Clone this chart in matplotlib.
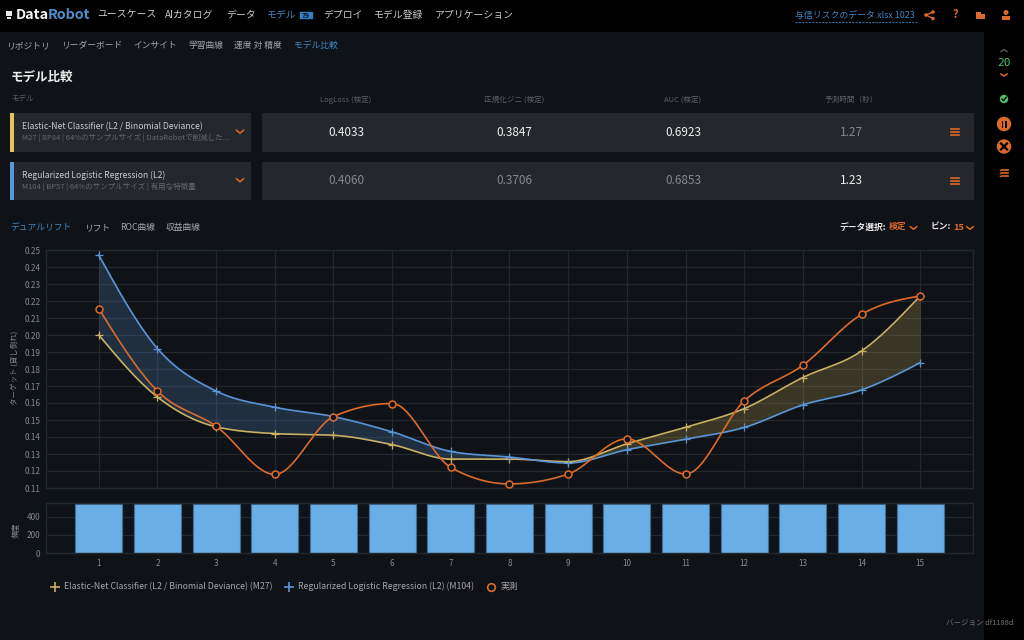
import numpy as np
import matplotlib
matplotlib.use('Agg')
import matplotlib.pyplot as plt
from matplotlib.patches import Rectangle, Circle

plt.rcParams['font.family'] = ['Noto Sans CJK JP', 'DejaVu Sans']

# data
bins = [1, 2, 3, 4, 5, 6, 7, 8, 9, 10, 11, 12, 13, 14, 15]
elastic = [0.200, 0.1635, 0.146, 0.142, 0.141, 0.1355, 0.127, 0.127, 0.1255, 0.136, 0.1457, 0.1567, 0.175, 0.1906, 0.223]
regularized = [0.247, 0.192, 0.167, 0.1575, 0.152, 0.143, 0.1315, 0.1282, 0.1247, 0.1325, 0.1387, 0.1456, 0.1589, 0.1677, 0.1837]
actual = [0.2155, 0.167, 0.1463, 0.118, 0.152, 0.1597, 0.1221, 0.1124, 0.1182, 0.1389, 0.1182, 0.1612, 0.1822, 0.2121, 0.223]
freq = [539, 539, 539, 539, 539, 539, 539, 539, 539, 539, 539, 539, 539, 539, 539]

metric_names = ['LogLoss (検定)', '正規化ジニ (検定)', 'AUC (検定)', '予測時間（秒）']
row1_values = ['0.4033', '0.3847', '0.6923', '1.27']
row2_values = ['0.4060', '0.3706', '0.6853', '1.23']
nav_items = ['ユースケース', 'AIカタログ', 'データ', 'モデル', 'デプロイ', 'モデル登録', 'アプリケーション']
sub_items = ['リポジトリ', 'リーダーボード', 'インサイト', '学習曲線', '速度 対 精度', 'モデル比較']
tab_items = ['デュアルリフト', 'リフト', 'ROC曲線', '収益曲線']

BG = '#0f1317'
CARD = '#24282c'
GRID = '#23282c'
ORANGE = '#dc6a2a'
BLUE = '#5b94d6'
YELLOW = '#c9b063'
LINK = '#3f86c2'
TEXT = '#c8cacb'
DIM = '#85888b'
FAINT = '#5d6164'


def smooth(x, y, n=30):
    # same idea as d3 curveMonotoneX, only for drawing the line between readings
    x = np.asarray(x, float)
    y = np.asarray(y, float)
    h = np.diff(x)
    s = np.diff(y) / h
    m = np.zeros(len(x))
    for i in range(1, len(x) - 1):
        p = (s[i - 1] * h[i] + s[i] * h[i - 1]) / (h[i - 1] + h[i])
        m[i] = (np.sign(s[i - 1]) + np.sign(s[i])) * min(abs(s[i - 1]), abs(s[i]), 0.5 * abs(p))
    m[0] = (3 * s[0] - m[1]) / 2
    m[-1] = (3 * s[-1] - m[-2]) / 2
    xs, ys = [], []
    for i in range(len(x) - 1):
        t = np.linspace(0, 1, n, endpoint=False)
        a = 2 * t**3 - 3 * t**2 + 1
        b = t**3 - 2 * t**2 + t
        c = -2 * t**3 + 3 * t**2
        d = t**3 - t**2
        xs.append(x[i] + t * h[i])
        ys.append(a * y[i] + b * h[i] * m[i] + c * y[i + 1] + d * h[i] * m[i + 1])
    xs.append(x[-1:])
    ys.append(y[-1:])
    return np.concatenate(xs), np.concatenate(ys)


def ax_px(left, top, right, bottom):
    return [left / 1024, 1 - bottom / 640, (right - left) / 1024, (bottom - top) / 640]


fig = plt.figure(figsize=(10.24, 6.4), dpi=100, facecolor=BG)

# page furniture, in pixel coordinates
ui = fig.add_axes([0, 0, 1, 1])
ui.set_xlim(0, 1024)
ui.set_ylim(640, 0)
ui.axis('off')


def box(x0, y0, x1, y1, color):
    ui.add_patch(Rectangle((x0, y0), x1 - x0, y1 - y0, fc=color, ec='none'))


def label(x, y, s, size=6.2, color=TEXT, ha='left', **kw):
    ui.text(x, y, s, fontsize=size, color=color, ha=ha, va='center', **kw)


def chevron(x, y, w=3.5, h=2.5, color=ORANGE, up=False):
    sign = -1 if up else 1
    ui.plot([x - w, x, x + w], [y - sign * h / 2, y + sign * h / 2, y - sign * h / 2], color=color, lw=1.1)


def burger(x, y, w=3.8, gap=3, color=ORANGE):
    for k in (-1, 0, 1):
        ui.plot([x - w, x + w], [y + k * gap, y + k * gap], color=color, lw=1.2)


box(0, 0, 1024, 32, '#000000')
box(984, 0, 1024, 640, '#000000')

# top bar
box(6, 11, 12, 16, '#e8e8e8')
box(7, 17, 11, 19, '#e8e8e8')
label(15.5, 15, 'Data', 10.3, '#f2f2f2', fontweight='bold')
label(48, 15, 'Robot', 10.3, '#4f8fcb', fontweight='bold')
nav_x = [97, 165, 226, 267, 323, 374, 435]
for x, s in zip(nav_x, nav_items):
    label(x, 15, s, 7.1, LINK if s == 'モデル' else TEXT)
ui.add_patch(Rectangle((300, 12), 12, 6, fc='#2f7fc4', ec='#2f7fc4', lw=1, joinstyle='round'))
label(306, 15, '79', 4.8, '#0f1317', ha='center', fontweight='bold')
label(795, 15, '与信リスクのデータ.xlsx 1023', 6.4, LINK)
ui.plot([795, 917], [22.3, 22.3], color='#2f6d9e', lw=0.8, ls=(0, (2, 1)))
# share, help, folder, person icons
ui.plot([933, 926, 933], [12, 15, 18.5], color=ORANGE, lw=1)
for cx, cy in [(933, 12), (926, 15), (933, 18.5)]:
    ui.add_patch(Circle((cx, cy), 1.8, fc=ORANGE, ec='none'))
label(955, 15, '?', 8, ORANGE, ha='center', fontweight='bold')
box(976, 12, 981, 14, ORANGE)
box(976, 13.5, 985, 19, ORANGE)
ui.add_patch(Circle((1006, 12.5), 2.5, fc=ORANGE, ec='none'))
box(1002, 16, 1010, 19.5, ORANGE)

# sub navigation
sub_x = [6, 61, 133, 188, 234, 294]
for x, s in zip(sub_x, sub_items):
    label(x, 45.5, s, 6.3, LINK if s == 'モデル比較' else '#a4a7a9')

label(11, 77, 'モデル比較', 9, '#eeeeee', fontweight='bold')
label(11, 99.5, 'モデル', 5.4, FAINT)
metric_x = [346, 514, 683, 851]
for x, s in zip(metric_x, metric_names):
    label(x, 99.5, s, 5.5, FAINT, ha='center')

# model rows
rows = [
    (113, 151.5, '#e3c45f', 'Elastic-Net Classifier (L2 / Binomial Deviance)',
     'M27 | BP84 | 64%のサンプルサイズ | DataRobotで削減した...', row1_values, ['#eeeeee', '#eeeeee', '#eeeeee', DIM]),
    (161.5, 200, '#5b95d8', 'Regularized Logistic Regression (L2)',
     'M104 | BP57 | 64%のサンプルサイズ | 有用な特徴量', row2_values, [DIM, DIM, DIM, '#eeeeee']),
]
for top, bottom, stripe, name, sub, values, colors in rows:
    mid = (top + bottom) / 2
    box(10, top, 251, bottom, CARD)
    box(10, top, 13.5, bottom, stripe)
    box(262, top, 974, bottom, CARD)
    label(22, mid - 5.5, name, 6.2, TEXT)
    label(22, mid + 6, sub, 5.45, '#63676a')
    chevron(240, mid - 0.5, 3.5, 3)
    burger(955, mid)
    for x, v, c in zip(metric_x, values, colors):
        label(x, mid, v, 8.5, c, ha='center')

# chart tabs and selectors
tab_x = [10.5, 84, 120, 166]
for x, s in zip(tab_x, tab_items):
    label(x, 227.5, s, 6.3, LINK if s == 'デュアルリフト' else '#a4a7a9')
label(839, 227.5, 'データ選択:', 6.3, '#e6e6e6', fontweight='bold')
label(889, 226.5, '検定', 6.3, ORANGE, fontweight='bold')
chevron(913.5, 228, 3.2, 2.5)
label(931, 227.5, 'ビン:', 6.3, '#e6e6e6', fontweight='bold')
label(953, 227.5, '15', 6.6, ORANGE, fontweight='bold')
chevron(970, 228, 3.2, 2.5)

# right sidebar
chevron(1004, 50.5, 3, 2, '#555555', up=True)
label(1004, 62.5, '20', 8, '#4fc26b', ha='center', family='DejaVu Sans Mono')
chevron(1004, 75, 3, 2)
ui.add_patch(Circle((1004, 99), 4.2, fc='#4fc26b', ec='none'))
ui.plot([1002, 1003.6, 1006.2], [99, 100.8, 97.4], color='#000000', lw=1)
ui.add_patch(Circle((1004, 124), 7.2, fc=ORANGE, ec='none'))
box(1001.5, 120.5, 1003.2, 127.5, '#000000')
box(1004.8, 120.5, 1006.5, 127.5, '#000000')
ui.add_patch(Circle((1004, 146.5), 7.2, fc=ORANGE, ec='none'))
ui.plot([1001, 1007], [143.5, 149.5], color='#000000', lw=1.6)
ui.plot([1001, 1007], [149.5, 143.5], color='#000000', lw=1.6)
burger(1005, 173, 3.2, 2.8)
ui.scatter([999.5] * 3, [170.2, 173, 175.8], s=1.5, color=ORANGE, linewidths=0)

# axis titles, legend, version
label(15.5, 368, 'ターゲット (貸し倒れ)', 5.4, DIM, ha='center', rotation=90)
label(16, 530, '頻度', 5.6, DIM, ha='center', rotation=90)
ui.plot([55], [586.5], marker='+', ms=6.5, mew=1.2, color=YELLOW, ls='none')
label(64.5, 586.5, 'Elastic-Net Classifier (L2 / Binomial Deviance) (M27)', 6.3, '#a4a7a9')
ui.plot([288.5], [586.5], marker='+', ms=6.5, mew=1.2, color=BLUE, ls='none')
label(298, 586.5, 'Regularized Logistic Regression (L2) (M104)', 6.3, '#a4a7a9')
ui.plot([491], [586.5], marker='o', ms=5.5, mew=1.2, mfc='none', mec=ORANGE, ls='none')
label(501, 586.5, '実測', 6.3, '#a4a7a9')
label(1014, 623.5, 'バージョン df1188d', 5.4, '#6f7275', ha='right')

# lift chart
ax = fig.add_axes(ax_px(46, 250, 973, 488))
ax.set_facecolor('none')
ax.set_xlim(0.1, 15.9)
ax.set_ylim(0.11, 0.25)
ax.set_yticks(np.arange(0.11, 0.2501, 0.01))
ax.set_yticklabels(['%.2f' % v for v in np.arange(0.11, 0.2501, 0.01)])
ax.set_xticks(bins)
ax.tick_params(axis='x', length=0, labelbottom=False)
ax.tick_params(axis='y', length=0, labelsize=5.9, labelcolor=DIM, pad=4)
ax.grid(True, color=GRID, lw=0.9, zorder=0)
ax.set_axisbelow(True)
for sp in ax.spines.values():
    sp.set_color(GRID)
    sp.set_linewidth(1)

sx, sy_e = smooth(bins, elastic)
_, sy_r = smooth(bins, regularized)
_, sy_a = smooth(bins, actual)
ax.fill_between(sx, sy_e, sy_r, where=sy_r >= sy_e, interpolate=True, color=BLUE, alpha=0.22, lw=0, zorder=1)
ax.fill_between(sx, sy_e, sy_r, where=sy_e >= sy_r, interpolate=True, color='#e3c45f', alpha=0.2, lw=0, zorder=1)
ax.plot(sx, sy_e, color=YELLOW, lw=1.2, zorder=2)
ax.plot(sx, sy_r, color=BLUE, lw=1.2, zorder=3)
ax.plot(sx, sy_a, color=ORANGE, lw=1.2, zorder=4)
ax.plot(bins, elastic, ls='none', marker='+', ms=6, mew=0.9, color=YELLOW, zorder=3, clip_on=False)
ax.plot(bins, regularized, ls='none', marker='+', ms=6, mew=0.9, color=BLUE, zorder=3, clip_on=False)
ax.plot(bins, actual, ls='none', marker='o', ms=5, mew=1.1, mfc=BG, mec=ORANGE, zorder=5, clip_on=False)

# frequency bars
ax2 = fig.add_axes(ax_px(46, 502.7, 973, 553.3))
ax2.set_facecolor('none')
ax2.set_xlim(0.1, 15.9)
ax2.set_ylim(0, 553)
ax2.bar(bins, freq, width=0.8, color='#6aaee6', edgecolor='#3f6f99', linewidth=0.8, zorder=2)
ax2.set_yticks([0, 200, 400])
ax2.set_xticks(bins)
ax2.tick_params(axis='both', length=0, labelsize=5.9, labelcolor=DIM)
ax2.tick_params(axis='x', pad=4)
ax2.tick_params(axis='y', pad=4)
ax2.grid(True, axis='y', color=GRID, lw=0.9, zorder=0)
ax2.set_axisbelow(True)
for sp in ax2.spines.values():
    sp.set_color(GRID)
    sp.set_linewidth(1)

fig.savefig('out.png', dpi=100, facecolor=BG)
